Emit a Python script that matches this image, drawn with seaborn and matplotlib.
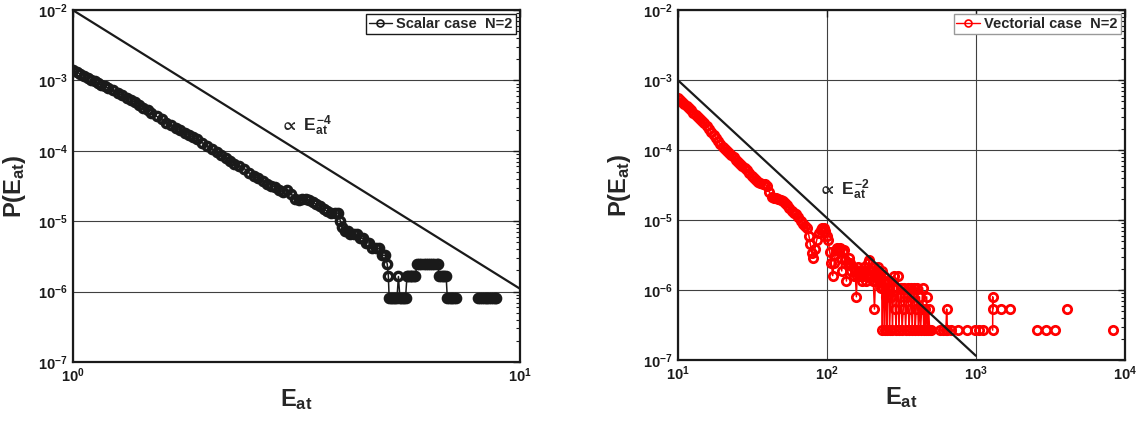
import numpy as np
import pandas as pd
import matplotlib
matplotlib.use('Agg')
import matplotlib.pyplot as plt
from matplotlib.lines import Line2D
from matplotlib.ticker import LogLocator, NullLocator
import seaborn as sns

sns.set_theme(style="white")
plt.rcParams['font.family'] = ['Liberation Sans', 'DejaVu Sans']
plt.rcParams['font.weight'] = 'bold'
plt.rcParams['mathtext.fontset'] = 'custom'
plt.rcParams['mathtext.rm'] = 'Liberation Sans:bold'
plt.rcParams['mathtext.it'] = 'Liberation Sans:bold'
plt.rcParams['mathtext.bf'] = 'Liberation Sans:bold'
plt.rcParams['mathtext.fallback'] = 'stixsans'

nan = np.nan

# scalar case N=2 (nan = empty bin, breaks the line)
scalar_E = [1.00, 1.02, 1.04, 1.06, 1.08, 1.10, 1.12, 1.14, 1.16, 1.18, 1.20,
            1.23, 1.26, 1.29, 1.32, 1.35, 1.38, 1.41, 1.44, 1.47, 1.50,
            1.54, 1.58, 1.62, 1.66, 1.70, 1.74, 1.78, 1.82, 1.86, 1.90,
            1.95, 2.00, 2.05, 2.10, 2.15, 2.20, 2.25, 2.30,
            2.36, 2.42, 2.48, 2.54, 2.60, 2.66, 2.72, 2.78, 2.84, 2.90, 2.96,
            3.02, 3.08, 3.14, 3.20, 3.26, 3.32, 3.38, 3.44, 3.50,
            3.57, 3.64, 3.71, 3.78, 3.85, 3.92, 3.97, 4.00, 4.06, 4.12, 4.18,
            4.25, 4.32, 4.39, 4.46, 4.53, 4.60, 4.68, 4.76, 4.84, 4.92, 5.00,
            5.05, 5.08, 5.10, 5.14, 5.18, 5.22, 5.26, 5.31, 5.35,
            5.39, 5.43, 5.47, 5.51, 5.55, 5.59, 5.63, 5.67, 5.71, 5.75, 5.80, 5.84,
            5.88, 5.95, 6.02, 6.09, 6.16, 6.23, 6.30, 6.37, 6.44, 6.51, 6.56,
            6.60, 6.66, 6.72, 6.78, 6.84, 6.88, 6.94, 7.00, 7.06, 7.12, 7.18,
            7.60, 8.06, 8.14, 8.22, 8.30, 8.38, 8.46, 8.54, 8.62, 8.70, 8.78, 8.86]
scalar_P = [1.41e-3, 1.32e-3, 1.24e-3, 1.16e-3, 1.09e-3, 1.03e-3, 9.7e-4, 9.1e-4, 8.6e-4, 8.2e-4, 7.8e-4,
            7.2e-4, 6.6e-4, 6.2e-4, 5.7e-4, 5.3e-4, 4.89e-4, 4.47e-4, 4.09e-4, 3.76e-4, 3.45e-4,
            3.10e-4, 2.79e-4, 2.52e-4, 2.32e-4, 2.13e-4, 1.97e-4, 1.82e-4, 1.68e-4, 1.56e-4, 1.45e-4,
            1.30e-4, 1.17e-4, 1.05e-4, 9.5e-5, 8.6e-5, 7.8e-5, 7.1e-5, 6.5e-5,
            6.1e-5, 5.6e-5, 4.86e-5, 4.45e-5, 4.06e-5, 3.73e-5, 3.43e-5, 3.18e-5, 3.02e-5, 2.75e-5, 2.60e-5,
            2.77e-5, 2.45e-5, 2.09e-5, 2.00e-5, 2.04e-5, 2.09e-5, 2.00e-5, 1.86e-5, 1.74e-5,
            1.62e-5, 1.48e-5, 1.38e-5, 1.29e-5, 1.29e-5, 1.31e-5, 1.0e-5, 8.2e-6, 7.38e-6, 7.38e-6, 6.56e-6,
            6.56e-6, 6.56e-6, 5.74e-6, 5.74e-6, 4.92e-6, 4.92e-6, 4.1e-6, 4.1e-6, 4.1e-6, 3.28e-6, 3.28e-6,
            2.46e-6, 1.64e-6, 8.2e-7, 8.2e-7, 8.2e-7, 8.2e-7, 8.2e-7, 8.2e-7, 1.64e-6,
            8.2e-7, 8.2e-7, 8.2e-7, 8.2e-7, 8.2e-7, 1.64e-6, 1.64e-6, 1.64e-6, 1.64e-6, 1.64e-6, 1.64e-6, 1.64e-6,
            2.46e-6, 2.46e-6, 2.46e-6, 2.46e-6, 2.46e-6, 2.46e-6, 2.46e-6, 2.46e-6, 2.46e-6, 2.46e-6, 2.46e-6,
            1.64e-6, 1.64e-6, 1.64e-6, 1.64e-6, 1.64e-6, 8.2e-7, 8.2e-7, 8.2e-7, 8.2e-7, 8.2e-7, 8.2e-7,
            nan, 8.2e-7, 8.2e-7, 8.2e-7, 8.2e-7, 8.2e-7, 8.2e-7, 8.2e-7, 8.2e-7, 8.2e-7, 8.2e-7, 8.2e-7]

# vectorial case N=2
vector_E = [10.0, 10.35, 10.7, 11.1, 11.5, 11.9, 12.3, 12.7, 13.2, 13.6,
            14.1, 14.6, 15.1, 15.7, 16.2, 16.8, 17.4, 18.0, 18.6, 19.3,
            20.0, 20.7, 21.4, 22.1, 22.9, 23.7, 24.5, 25.4, 26.3, 27.2,
            28.2, 29.2, 30.2, 31.3, 32.4, 33.5, 34.7, 35.9, 37.2, 38.5,
            39.8, 41.2, 42.7, 44.2, 45.7, 47.3, 49.0, 50.7, 52.5, 54.3,
            56.2, 58.2, 60.3, 62.4, 64.6, 66.8, 69.2, 71.6, 74.1, 75.9,
            77.6, 79.4, 81.3, 83.2, 85.5, 88.1, 90.8, 93.3, 95.5, 97.7,
            100, 102.3, 104.7, 107.2, 109.6, 112.2, 114, 116.1, 118, 120.2,
            122, 124.5, 126, 128.8, 131, 133.4, 135.5, 138, 140.5, 143,
            146, 149, 152, 155, 158, 160, 163, 166, 169, 172,
            175, 178, 181, 184, 187, 190, 193, 196, 199, 202,
            205, 209, 212, 215, 218, 221, 224, 227, 230, 233,
            236, 238, 241, 244, 247, 250, 253, 256, 260, 264,
            268, 272, 276, 280, 284, 288, 292, 296, 300, 305,
            310, 315, 320, 326, 332, 338, 344, 350, 356, 362,
            368, 374, 380, 386, 392, 398, 405, 412, 419, 426,
            433, 440, 447, 454, 461, 468, 475, 482, 490, 497,
            520, 575, 600, 630, 637, 645, 680, 720, 762, 800,
            868, 930, 986, 1020, 1054, 1080, 1111, 1200, 1297, 1297.5,
            1298, 1380, 1467, 1580, 1693, 2100, 2583, 2750, 2953, 3150,
            3394, 3700, 4105, 6000, 8276]
vector_P = [5.48e-4, 5.15e-4, 4.84e-4, 4.54e-4, 4.27e-4, 3.96e-4, 3.67e-4, 3.41e-4, 3.16e-4, 2.95e-4,
            2.76e-4, 2.58e-4, 2.43e-4, 2.20e-4, 2.00e-4, 1.82e-4, 1.66e-4, 1.50e-4, 1.36e-4, 1.22e-4,
            1.11e-4, 1.04e-4, 9.7e-5, 9.1e-5, 8.5e-5, 7.9e-5, 7.3e-5, 6.8e-5, 6.4e-5, 5.9e-5,
            5.5e-5, 5.1e-5, 4.7e-5, 4.27e-5, 3.98e-5, 3.72e-5, 3.51e-5, 3.39e-5, 3.31e-5, 3.24e-5,
            3.02e-5, 2.51e-5, 2.15e-5, 2.09e-5, 2.04e-5, 2.0e-5, 1.95e-5, 1.86e-5, 1.74e-5, 1.62e-5,
            1.48e-5, 1.35e-5, 1.26e-5, 1.20e-5, 1.10e-5, 9.8e-6, 8.9e-6, 8.3e-6, 7.6e-6, 6.0e-6,
            4.5e-6, 3.4e-6, 2.9e-6, 3.8e-6, 5.1e-6, 6.5e-6, 7.2e-6, 7.6e-6, 7.6e-6, 6.9e-6,
            6.0e-6, 5.1e-6, 3.5e-6, 2.4e-6, 1.6e-6, 2.4e-6, 3.2e-6, 3.7e-6, 4.0e-6, 3.7e-6,
            4.0e-6, 2.9e-6, 1.87e-6, 3.5e-6, 3.7e-6, 2.67e-6, 1.34e-6, 2.4e-6, 2.9e-6, 2.4e-6,
            1.87e-6, 2.14e-6, 1.6e-6, 1.87e-6, 8.0e-7, 1.6e-6, 2.14e-6, 1.6e-6, 1.87e-6, 1.34e-6,
            1.6e-6, 2.14e-6, 1.87e-6, 1.34e-6, 1.6e-6, 2.4e-6, 2.67e-6, 1.87e-6, 1.6e-6, 2.14e-6,
            1.34e-6, 5.34e-7, 1.34e-6, 1.87e-6, 1.6e-6, 2.14e-6, 1.34e-6, 1.6e-6, 1.07e-6, 1.87e-6,
            2.67e-7, 1.07e-6, 1.6e-6, 2.67e-7, 1.34e-6, 8.0e-7, 2.67e-7, 1.07e-6, 1.34e-6, 2.67e-7,
            8.0e-7, 1.34e-6, 2.67e-7, 1.07e-6, 1.6e-6, 5.34e-7, 2.67e-7, 1.07e-6, 1.6e-6, 2.67e-7,
            8.0e-7, 1.07e-6, 2.67e-7, 5.34e-7, 1.07e-6, 2.67e-7, 8.0e-7, 1.07e-6, 2.67e-7, 5.34e-7,
            1.07e-6, 2.67e-7, 8.0e-7, 1.07e-6, 2.67e-7, 5.34e-7, 1.07e-6, 2.67e-7, 8.0e-7, 2.67e-7,
            5.34e-7, 1.07e-6, 2.67e-7, 5.34e-7, 2.67e-7, 8.0e-7, 2.67e-7, 5.34e-7, 2.67e-7, 2.67e-7,
            nan, 2.67e-7, 2.67e-7, 2.67e-7, 5.34e-7, 2.67e-7, 2.67e-7, nan, 2.67e-7, nan,
            2.67e-7, nan, 2.67e-7, nan, 2.67e-7, nan, 2.67e-7, nan, 2.67e-7, 8.0e-7,
            5.34e-7, nan, 5.34e-7, nan, 5.34e-7, nan, 2.67e-7, nan, 2.67e-7, nan,
            2.67e-7, nan, 5.34e-7, nan, 2.67e-7]

# power-law guide lines
fit4_E = [1, 10]
fit4_P = [1e-2, 1.1e-6]
fit2_E = [10, 1000]
fit2_P = [1e-3, 1.15e-7]


def to_frame(E, P):
    df = pd.DataFrame({'E': E, 'P': P})
    df['seg'] = df['P'].isna().cumsum()
    return df.dropna()


def style_axes(ax, xlim):
    ax.set_xscale('log')
    ax.set_yscale('log')
    ax.set_xlim(*xlim)
    ax.set_ylim(1e-7, 1e-2)
    ax.xaxis.set_major_locator(LogLocator(base=10, numticks=10))
    ax.xaxis.set_minor_locator(NullLocator())
    ax.yaxis.set_major_locator(LogLocator(base=10, numticks=10))
    ax.yaxis.set_minor_locator(LogLocator(base=10, subs=np.arange(2, 10), numticks=20))
    ax.tick_params(which='both', direction='in', top=True, right=True, colors='k',
                   labelsize=10.5)
    ax.tick_params(which='major', length=5, width=1)
    ax.tick_params(which='minor', length=3, width=0.8)
    ax.grid(True, which='major', axis='both', color='0.25', lw=0.8)
    for s in ax.spines.values():
        s.set_color('k')
        s.set_linewidth(1.6)
    ax.set_xlabel(r'$\mathbf{E_{at}}$', fontsize=17, labelpad=1)
    ax.set_ylabel(r'$\mathbf{P(E_{at})}$', fontsize=17)
    ax.yaxis.set_label_coords(-0.1, 0.5)


fig = plt.figure(figsize=(11.48, 4.21), dpi=100)
ax1 = fig.add_axes([0.0633, 0.1401, 0.3896, 0.8361])
ax2 = fig.add_axes([0.5903, 0.1449, 0.3896, 0.8314])

mk = dict(marker='o', markersize=6, markerfacecolor='none', markeredgewidth=2.4, linewidth=1.1)

# left panel
sns.lineplot(data=to_frame(scalar_E, scalar_P), x='E', y='P', units='seg', estimator=None,
             sort=False, color='k', markeredgecolor='k', legend=False, ax=ax1, **mk)
sns.lineplot(x=fit4_E, y=fit4_P, color='k', lw=1.6, ax=ax1)
style_axes(ax1, (1, 10))
ax1.text(2.89, 2.3e-4, r'$\propto\ E_{at}^{-4}$', fontsize=12.5, va='center', ha='left')
leg_mk = dict(marker='o', markersize=5, markerfacecolor='none', markeredgewidth=1.2, linewidth=1)
h1 = Line2D([], [], color='k', markeredgecolor='k', **leg_mk)
ax1.legend([h1], ['Scalar case  N=2'], loc='upper right', frameon=True,
           fancybox=False, edgecolor='k', framealpha=1, borderpad=0.2, handlelength=1.6,
           handletextpad=0.3, borderaxespad=0.3, prop={'weight': 'bold', 'size': 10.5})

# right panel
sns.lineplot(data=to_frame(vector_E, vector_P), x='E', y='P', units='seg', estimator=None,
             sort=False, color='#ff0000', markeredgecolor='#ff0000', legend=False, ax=ax2,
             **dict(mk, markeredgewidth=2.0))
sns.lineplot(x=fit2_E, y=fit2_P, color='k', lw=1.6, ax=ax2)
style_axes(ax2, (10, 1e4))
ax2.text(85.5, 2.7e-5, r'$\propto\ E_{at}^{-2}$', fontsize=12.5, va='center', ha='left')
h2 = Line2D([], [], color='#ff0000', markeredgecolor='#ff0000', **leg_mk)
ax2.legend([h2], ['Vectorial case  N=2'], loc='upper right', frameon=True,
           fancybox=False, edgecolor='0.6', framealpha=1, borderpad=0.2, handlelength=1.6,
           handletextpad=0.3, borderaxespad=0.3, prop={'weight': 'bold', 'size': 10.5})

fig.savefig('out.png', dpi=100)
